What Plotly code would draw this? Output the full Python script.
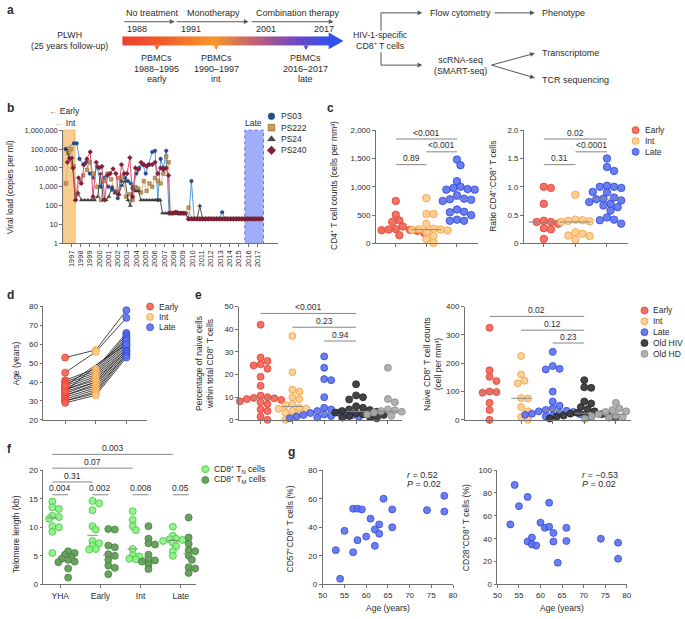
import numpy as np
import plotly.graph_objects as go

W, H = 685, 619
FONT = "Liberation Sans, Arial, sans-serif"
TXT = "#2b2b2b"
AXC = "#707070"

# ======================= DATA =======================
# ---- panel a (text content) ----
A_PERIODS = ["No treatment", "Monotherapy", "Combination therapy"]
A_PERIOD_YEARS = ["1988", "1991", "2001", "2017"]
A_SAMPLES = [["PBMCs", "1988–1995", "early"], ["PBMCs", "1990–1997", "int"], ["PBMCs", "2016–2017", "late"]]

# ---- panel b: viral load (copies per ml) ----
B_TICK_YEARS = list(range(1997, 2018))
B_VL_TICKS = [1, 10, 100, 1000, 10000, 100000, 1000000]
B_VL_LABELS = ["1", "10", "100", "1,000", "10,000", "100,000", "1,000,000"]
TAIL_YEARS = [2009.6, 2009.9, 2010.2, 2010.5, 2010.8, 2011.1, 2011.4, 2011.7, 2012.0, 2012.3,
              2012.6, 2012.9, 2013.2, 2013.5, 2013.8, 2014.1, 2014.4, 2014.7, 2015.0, 2015.3,
              2015.6, 2015.9, 2016.2, 2016.5, 2016.8, 2017.1, 2017.4]

PS03_YEARS = [1996.4, 1997.3, 1997.6, 1997.9, 1998.3, 1998.6, 1999.0, 1999.4, 1999.8, 2000.2,
              2000.6, 2001.0, 2001.4, 2001.8, 2002.0, 2002.4, 2002.8, 2003.1, 2003.4, 2003.6,
              2004.0, 2004.3, 2004.7, 2005.0, 2005.3, 2005.7, 2006.0, 2006.3, 2006.6, 2006.9,
              2007.2, 2007.5, 2007.8, 2008.1, 2008.4, 2008.7, 2009.0, 2009.3]
PS03_VL = [100000, 200000, 200000, 30000, 15000, 20000, 5000, 3000, 12000, 1000,
           3000, 1000, 700, 600, 250, 2000, 3000, 2000, 1500, 800,
           5000, 10000, 15000, 5000, 15000, 70000, 80000, 200, 30000, 10000,
           80000, 40, 40, 40, 40, 40, 40, 40]
PS03_TAIL = [20, 2000, 20, 20, 20, 20, 20, 20, 20, 20, 20, 20, 45, 20, 20, 20, 20, 20, 20, 20,
             20, 20, 20, 20, 20, 20, 20]

PS222_YEARS = [1996.45, 1996.7, 1997.0, 1997.25, 1997.6, 1998.0, 1998.3, 1998.7, 1999.0, 1999.4,
               1999.8, 2000.2, 2000.5, 2000.9, 2001.3, 2001.7, 2002.1, 2002.5, 2002.9, 2003.3,
               2003.6, 2003.9, 2004.2, 2004.5, 2004.8, 2005.1, 2005.4, 2005.7, 2006.0, 2006.3,
               2006.6, 2006.9, 2007.2, 2007.45, 2007.65, 2008.0, 2008.3, 2008.6, 2008.9, 2009.2]
PS222_VL = [1500, 60000, 100000, 12000, 400, 2000, 4000, 8000, 20000, 5000,
            1000, 200, 2000, 5000, 2500, 500, 3000, 3500, 300, 400,
            200, 1000, 800, 500, 2000, 600, 1500, 1000, 3000, 2000,
            1500, 5000, 40000, 20000, 40, 40, 45, 40, 40, 40]
PS222_TAIL = [80, 20, 20, 20, 20, 20, 20, 20, 20, 20, 20, 20, 20, 20, 20, 20, 20, 20, 20, 20,
              20, 20, 20, 20, 20, 20, 20]

PS24_YEARS = [1996.5, 1996.8, 1997.1, 1997.45, 1997.75, 1998.1, 1998.45, 1998.8, 1999.15, 1999.5,
              1999.85, 2000.15, 2000.45, 2000.75, 2001.05, 2001.4, 2001.75, 2002.1, 2002.45, 2002.8,
              2003.1, 2003.35, 2003.6, 2003.9, 2004.2, 2004.5, 2004.8, 2005.1, 2005.4, 2005.7,
              2006.0, 2006.3, 2006.55, 2006.8, 2007.1, 2007.4, 2007.7, 2008.0, 2008.3, 2008.6,
              2008.9, 2009.2]
PS24_VL = [100000, 35000, 35000, 200, 500, 200, 200, 200, 200, 200,
           300, 5000, 200, 200, 300, 1000, 500, 400, 1200, 2000,
           200, 100, 1000, 600, 600, 200, 200, 200, 200, 200,
           200, 200, 200, 40, 40, 40, 40, 40, 40, 40,
           40, 40]
PS24_TAIL = [20, 20, 20, 20, 100, 20, 20, 20, 20, 20, 20, 20, 20, 20, 20, 20, 20, 20, 20, 20,
             20, 20, 20, 20, 20, 20, 20]

PS240_YEARS = [1996.6, 1996.9, 1997.2, 1997.5, 1997.8, 1998.1, 1998.4, 1998.7, 1999.05, 1999.35,
               1999.7, 2000.0, 2000.3, 2000.6, 2000.9, 2001.2, 2001.5, 2001.8, 2002.1, 2002.4,
               2002.7, 2003.0, 2003.3, 2003.6, 2003.9, 2004.2, 2004.5, 2004.8, 2005.1, 2005.4,
               2005.7, 2006.0, 2006.3, 2006.6, 2006.9, 2007.2, 2007.45, 2007.6, 2007.9, 2008.2,
               2008.5, 2008.8, 2009.1]
PS240_VL = [20000, 30000, 10000, 200, 3000, 1500, 15000, 30000, 70000, 300,
            20000, 10000, 12000, 200, 4000, 5000, 9000, 5000, 400, 15000,
            5000, 5000, 35000, 300, 10000, 8000, 20000, 15000, 12000, 15000,
            15000, 20000, 5000, 10000, 8000, 10000, 4000, 40, 40, 45,
            40, 40, 40]
PS240_TAIL = [20, 20, 20, 20, 20, 20, 20, 20, 20, 20, 20, 20, 20, 20, 20, 20, 20, 20, 20, 20,
              20, 20, 20, 20, 20, 20, 20]

# ---- panel c ----
GROUPS3 = ["Early", "Int", "Late"]
CD4_EARLY = [750, 505, 405, 380, 300, 255, 245, 240, 235, 225, 200, 185, 145]
CD4_INT = [800, 520, 520, 345, 260, 250, 245, 240, 230, 200, 130, 80, 10]
CD4_LATE = [1480, 1380, 1100, 1000, 980, 960, 950, 950, 850, 790, 780, 770, 750, 740, 600,
            560, 550, 500, 420, 400, 400]
RATIO_EARLY = [1.0, 0.98, 0.70, 0.40, 0.38, 0.38, 0.35, 0.27, 0.25, 0.08]
RATIO_INT = [0.86, 0.42, 0.41, 0.40, 0.39, 0.38, 0.20, 0.17, 0.14, 0.13, 0.07]
RATIO_LATE = [1.5, 1.35, 1.28, 1.02, 1.0, 1.0, 0.98, 0.91, 0.9, 0.81, 0.79, 0.78, 0.76, 0.73,
              0.70, 0.67, 0.64, 0.58, 0.46, 0.42, 0.41, 0.35]

# ---- panel d: age (years), one entry per person ----
AGE_EARLY = [53, 45, 41, 40, 39, 38, 37, 36, 36, 35, 34, 33, 33, 32, 31, 30, 30, 29, 35, 38]
AGE_INT = [57, 56, 47, 46, 45, 44, 43, 42, 41, 40, 40, 39, 38, 37, 36, 35, 34, 33, None, None]
AGE_LATE = [78, 74, 66, 65, 64, 63, 62, 61, 60, 59, 58, 57, 57, 56, 55, 55, 54, 53, 62, 60]

# ---- panel e ----
GROUPS5 = ["Early", "Int", "Late", "Old HIV", "Old HD"]
NAIVE_PCT = [
    [42, 27.5, 26, 24.5, 24, 22.6, 19, 15, 10.7, 10, 9.7, 9.5, 9.2, 8.8, 8.2, 7.8, 7, 4.6, 3.9, 1.4, 0],
    [37, 21, 13.3, 12.5, 10, 9.2, 7, 6.5, 5.3, 5.0, 4.9, 3.9, 3.2, 2.4, 1.0, 0],
    [28, 23, 18, 17.5, 10, 5.3, 4.6, 3.9, 3.2, 3.0, 2.7, 2.4, 2.2, 2.0, 1.7, 1.5, 1.3, 1.0, 0.7],
    [15.7, 10.8, 10, 9, 6, 5.3, 4.6, 4.3, 3.9, 3.6, 3.2, 2.9, 2.4, 2.2, 1.7, 1.3, 1.0, 0.7],
    [23, 9.2, 7.8, 4.6, 4.2, 3.9, 3.6, 3.2, 3.0, 2.4, 2.0, 1.8],
]
NAIVE_COUNT = [
    [325, 175, 152, 137, 100, 98, 96, 60, 35, 0],
    [225, 160, 138, 129, 77, 75, 45, 30, 10, 0],
    [240, 190, 180, 178, 100, 65, 50, 40, 35, 32, 30, 28, 25, 22, 20, 18, 15, 12],
    [140, 115, 113, 65, 58, 45, 38, 30, 25, 22, 20, 18, 15, 13, 12, 10, 8, 5],
    [60, 40, 35, 30, 28, 22, 20, 18, 15, 12, 10, 8, 6, 4],
]

# ---- panel f: telomere length (kb) ----
F_GROUPS = ["YHA", "Early", "Int", "Late"]
TEL_TN = [
    [14.5, 13.5, 13.2, 12, 11.8, 11.5, 10.2, 10, 9.2, 5.5],
    [14.6, 14.2, 13, 10.2, 9.6, 7.6, 7.2, 6.8, 6.2, 6.1],
    [12.8, 11.3, 10.2, 9.5, 6.2, 5.1, 4.9, 4.5, 4.4],
    [10.1, 8.5, 8.0, 7.9, 7.8, 7.6, 7.3, 6.7, 5.8, 5.0],
]
TEL_TM = [
    [5.8, 5.5, 5.2, 4.8, 4.5, 4.3, 4.0, 3.9, 2.8, 1.2],
    [9.7, 9.6, 6.8, 6.5, 5.3, 5.0, 4.3, 3.3, 2.9, 1.8],
    [10.2, 8.0, 7.2, 7.0, 5.2, 4.3, 4.2, 4.0, 3.5, 2.7],
    [11.7, 8.2, 7.1, 6.0, 5.8, 5.0, 4.3, 3.0, 2.8, 2.0],
]

# ---- panel g ----
G_AGE = [53, 54, 55, 57, 57, 58, 58, 59, 60, 61, 62, 62, 63, 63, 64, 66, 66, 74, 78, 78]
G_CD57 = [24, 4, 37.5, 53, 22.5, 53, 31, 52.5, 33.5, 46, 38.5, 27, 42, 35.5, 60, 52.5, 40, 52, 62, 51]
G_CD28 = [52.5, 87, 68.5, 76.5, 37.5, 41, 35, 34, 54, 49.5, 71.5, 50.5, 45, 37.5, 19, 49.5, 38, 40, 36.5, 22.5]

# ======================= STYLE / HELPERS =======================
COL = {
    "Early": ("rgba(242,100,88,0.92)", "#E2412F"),
    "Int": ("rgba(252,204,140,0.92)", "#F2A03C"),
    "Late": ("rgba(92,115,240,0.92)", "#3448D8"),
    "Old HIV": ("rgba(58,58,58,0.95)", "#222222"),
    "Old HD": ("rgba(172,172,172,0.95)", "#8C8C8C"),
    "TN": ("rgba(140,240,135,0.92)", "#3CC83A"),
    "TM": ("rgba(96,158,86,0.95)", "#4A8040"),
}

fig = go.Figure()
shapes, anns = [], []


def X(p):
    return p / W


def Y(p):
    return 1 - p / H


def base_axis(**kw):
    d = dict(showline=True, linecolor=AXC, linewidth=0.8, ticks="outside", ticklen=3,
             tickwidth=0.8, tickcolor=AXC, showgrid=False, zeroline=False,
             tickfont=dict(size=8, color=TXT, family=FONT), fixedrange=True)
    d.update(kw)
    return d


L = dict(width=W, height=H, margin=dict(l=0, r=0, t=0, b=0), paper_bgcolor="white",
         plot_bgcolor="rgba(0,0,0,0)", showlegend=False,
         font=dict(family=FONT, size=8, color=TXT))


def add_axes(n, xdom, ydom, xkw, ykw):
    sx = "" if n == 1 else str(n)
    L["xaxis" + sx] = base_axis(domain=[X(xdom[0]), X(xdom[1])], anchor="y" + sx, **xkw)
    L["yaxis" + sx] = base_axis(domain=[Y(ydom[1]), Y(ydom[0])], anchor="x" + sx, **ykw)


def txt(x, y, s, size=9, xanchor="center", angle=0, color=TXT, bold=False):
    if bold:
        s = "<b>" + s + "</b>"
    anns.append(dict(xref="x10", yref="y10", x=x, y=y, text=s, showarrow=False,
                     xanchor=xanchor, yanchor="middle", textangle=angle,
                     font=dict(size=size, color=color, family=FONT)))


def seg(x0, y0, x1, y1, color="#555555", width=1):
    shapes.append(dict(type="line", xref="x10", yref="y10", x0=x0, y0=y0, x1=x1, y1=y1,
                       line=dict(color=color, width=width)))


def arrow(x0, y0, x1, y1, color="#555555", hl=5.0, hw=2.4):
    dx, dy = x1 - x0, y1 - y0
    n = (dx * dx + dy * dy) ** 0.5
    ux, uy = dx / n, dy / n
    bx, by = x1 - ux * hl, y1 - uy * hl
    seg(x0, y0, bx, by, color=color)
    px, py = -uy, ux
    shapes.append(dict(type="path", xref="x10", yref="y10",
                       path="M %.2f %.2f L %.2f %.2f L %.2f %.2f Z" % (
                           x1, y1, bx + px * hw, by + py * hw, bx - px * hw, by - py * hw),
                       fillcolor=color, line=dict(width=0)))


def swarm(vals, ppu_y, ppu_x, d=7.0, sep=0.92):
    vals = np.asarray(vals, float)
    step = d * 0.5
    order = np.argsort(-vals, kind="stable")
    placed = []
    offs = np.zeros(len(vals))
    for i in order:
        yv = vals[i] * ppu_y
        best = None
        for k in range(0, 100):
            for c in ([0.0] if k == 0 else [k * step, -k * step]):
                if all((c - px) ** 2 + (yv - py) ** 2 >= (d * sep) ** 2 for px, py in placed):
                    best = c
                    break
            if best is not None:
                break
        placed.append((best, yv))
        offs[i] = best / ppu_x
    return offs


def dots(xa, ya, x, y, key, size=7):
    fill, edge = COL[key]
    fig.add_trace(go.Scatter(x=list(x), y=list(y), xaxis=xa, yaxis=ya, mode="markers",
                             cliponaxis=False, hoverinfo="skip",
                             marker=dict(size=size, color=fill, line=dict(color=edge, width=0.8))))


def median_line(xa, ya, xc, vals, half):
    m = float(np.median(vals))
    fig.add_trace(go.Scatter(x=[xc - half, xc + half], y=[m, m], xaxis=xa, yaxis=ya, mode="lines",
                             cliponaxis=False, hoverinfo="skip",
                             line=dict(color="#8a8a8a", width=1)))


def bracket(xref, x0, x1, ypx, label, size=8.5):
    shapes.append(dict(type="line", xref=xref, yref="paper", x0=x0, x1=x1, y0=Y(ypx), y1=Y(ypx),
                       line=dict(color="#666666", width=0.8)))
    anns.append(dict(xref=xref, yref="paper", x=(x0 + x1) / 2, y=Y(ypx - 6.5), text=label,
                     showarrow=False, xanchor="center", yanchor="middle",
                     font=dict(size=size, color=TXT, family=FONT)))


def legend_dot(x, y, key, label, size=7, symbol="circle"):
    fill, edge = COL[key]
    fig.add_trace(go.Scatter(x=[x], y=[y], xaxis="x10", yaxis="y10", mode="markers",
                             cliponaxis=False, hoverinfo="skip",
                             marker=dict(size=size, color=fill, symbol=symbol,
                                         line=dict(color=edge, width=0.8))))
    txt(x + 7, y, label, size=8.5, xanchor="left")


# overlay pixel axes (hidden, used to place non-data drawing elements)
L["xaxis10"] = dict(domain=[0, 1], range=[0, W], visible=False, showticklabels=False,
                    anchor="y10", fixedrange=True)
L["yaxis10"] = dict(domain=[0, 1], range=[H, 0], visible=False, showticklabels=False,
                    anchor="x10", fixedrange=True)

# ======================= PANEL a =======================
txt(1, 6, "a", size=12, xanchor="left", bold=True)
for (xl, a0, a1), lab in zip([(122, 122, 173), (183, 175, 248), (253, 251, 334)], A_PERIODS):
    txt(xl, 9, lab, xanchor="left")
    arrow(a0, 18, a1, 18)
for xl, lab in zip([123, 177, 253, 312], A_PERIOD_YEARS):
    txt(xl, 25.5, lab, xanchor="left")
txt(66, 37.5, "PLWH<br>(25 years follow-up)", size=8.8)

stops = [(120, (238, 62, 50)), (165, (242, 96, 46)), (212, (247, 150, 40)),
         (252, (196, 98, 112)), (292, (118, 70, 192)), (330, (50, 80, 235))]


def grad(xp):
    for (x0, c0), (x1, c1) in zip(stops[:-1], stops[1:]):
        if x0 <= xp <= x1:
            t = (xp - x0) / (x1 - x0)
            return "rgb(%d,%d,%d)" % tuple(int(round(a + (b - a) * t)) for a, b in zip(c0, c1))
    return "rgb(50,80,235)"


NSEG = 84
xs = np.linspace(120, 330, NSEG + 1)
for i in range(NSEG):
    c = grad((xs[i] + xs[i + 1]) / 2)
    shapes.append(dict(type="rect", xref="x10", yref="y10", x0=xs[i], x1=xs[i + 1] + 0.6,
                       y0=33, y1=42, fillcolor=c, line=dict(width=0)))
shapes.append(dict(type="path", xref="x10", yref="y10", path="M 329 29 L 344 37.5 L 329 46 Z",
                   fillcolor="rgb(50,80,235)", line=dict(width=0)))
for xc, lines in zip([155, 215, 306], A_SAMPLES):
    shapes.append(dict(type="path", xref="x10", yref="y10",
                       path="M %f 42 L %f 42 L %f 47 Z" % (xc - 2.5, xc + 2.5, xc),
                       fillcolor=grad(xc), line=dict(width=0)))
    for k, s in enumerate(lines):
        txt(xc, 55 + 10.5 * k, s)

txt(382, 37.5, "HIV-1-specific<br>CD8⁺ T cells", size=8.8)
seg(382, 9, 382, 27)
seg(382, 49, 382, 62)
arrow(382, 9, 424, 9)
arrow(382, 62, 424, 62)
txt(430, 9, "Flow cytometry", xanchor="left")
arrow(497, 9, 538, 9)
txt(543, 9, "Phenotype", xanchor="left")
txt(463, 62, "scRNA-seq<br>(SMART-seq)", size=8.8)
arrow(494, 62, 538, 50)
arrow(494, 62, 538, 75)
txt(543, 50, "Transcriptome", xanchor="left")
txt(543, 77, "TCR sequencing", xanchor="left")

# ======================= PANEL b =======================
txt(1, 106, "b", size=12, xanchor="left", bold=True)
B_X0, B_X1 = 1997 - 8 / 9.45, 1997 + 210 / 9.45
add_axes(1, (60, 278), (128, 243),
         dict(range=[B_X0, B_X1], tickvals=B_TICK_YEARS, ticktext=[str(v) for v in B_TICK_YEARS],
              tickangle=-90, tickfont=dict(size=7.5, color=TXT, family=FONT)),
         dict(type="log", range=[0, 6], tickvals=B_VL_TICKS, ticktext=B_VL_LABELS,
              tickfont=dict(size=7.5, color=TXT, family=FONT)))
shapes.append(dict(type="rect", xref="x", yref="paper", x0=B_X0, x1=1997 + (72 - 68) / 9.45,
                   y0=Y(243), y1=Y(128), fillcolor="rgba(248,198,132,0.9)",
                   line=dict(color="#F2A548", width=0.8), layer="below"))
shapes.append(dict(type="rect", xref="x", yref="paper", x0=1997 + (244 - 68) / 9.45,
                   x1=1997 + (263 - 68) / 9.45, y0=Y(243), y1=Y(128),
                   fillcolor="rgba(150,164,246,0.9)",
                   line=dict(color="#3B55E6", width=0.8, dash="dot"), layer="below"))
b_series = [
    (PS03_YEARS, PS03_VL, PS03_TAIL, "#3F8FD4", "circle", "#1F4F92", "#173A70"),
    (PS222_YEARS, PS222_VL, PS222_TAIL, "#D8B27A", "square", "#C9965A", "#6E5028"),
    (PS24_YEARS, PS24_VL, PS24_TAIL, "#3A3A3A", "triangle-up", "#4A4A4A", "#222222"),
    (PS240_YEARS, PS240_VL, PS240_TAIL, "#D9385E", "diamond", "#8C1C3C", "#5A0F25"),
]
for yrs, vl, tail, lc, sym, mf, me in b_series:
    fig.add_trace(go.Scatter(x=yrs + TAIL_YEARS, y=vl + tail, xaxis="x", yaxis="y",
                             mode="lines+markers", hoverinfo="skip", cliponaxis=False,
                             line=dict(color=lc, width=0.9),
                             marker=dict(symbol=sym, size=3.6, color=mf, line=dict(color=me, width=0.4))))
txt(6, 186, "Viral load (copies per ml)", size=8.5, angle=-90)
txt(44, 109, "<span style='color:#E8452C'>←</span> Early", size=8.5, xanchor="left")
txt(50, 121, "<span style='color:#F5A030'>←</span> Int", size=8.5, xanchor="left")
txt(253, 121, "Late", size=8.5)
for (yy, lab, sym, mf, me) in [(114, "PS03", "circle", "#1F4F92", "#173A70"),
                              (125.5, "PS222", "square", "#D49A50", "#6E5028"),
                              (137, "PS24", "triangle-up", "#4A4A4A", "#222222"),
                              (148.5, "PS240", "diamond", "#8C1C3C", "#5A0F25")]:
    fig.add_trace(go.Scatter(x=[271], y=[yy], xaxis="x10", yaxis="y10", mode="markers",
                             hoverinfo="skip", cliponaxis=False,
                             marker=dict(symbol=sym, size=6.5, color=mf, line=dict(color=me, width=0.6))))
    txt(279, yy, lab, size=8.5, xanchor="left")

# ======================= PANEL c =======================
txt(325, 106, "c", size=12, xanchor="left", bold=True)
add_axes(2, (377, 480), (128, 243),
         dict(range=[-20 / 31, 83 / 31], tickvals=[0, 1, 2], showticklabels=False),
         dict(range=[0, 2000], tickvals=[0, 500, 1000, 1500, 2000],
              ticktext=["0", "500", "1,000", "1,500", "2,000"]))
for gi, (vals, key) in enumerate(zip([CD4_EARLY, CD4_INT, CD4_LATE], GROUPS3)):
    offs = swarm(vals, 115 / 2000, 31, d=7.2)
    dots("x2", "y2", gi + offs, vals, key, size=7.5)
    median_line("x2", "y2", gi, vals, 0.48)
bracket("x2", 0, 2, 137, "&lt;0.001")
bracket("x2", 1, 2, 150, "&lt;0.001")
bracket("x2", 0, 1, 163, "0.89")
txt(335, 184, "CD4⁺ T cell counts (cells per mm³)", size=8.5, angle=-90)

add_axes(3, (527, 632), (128, 243),
         dict(range=[-20 / 32, 85 / 32], tickvals=[0, 1, 2], showticklabels=False),
         dict(range=[0, 2], tickvals=[0, 0.5, 1, 1.5, 2], ticktext=["0", "0.5", "1.0", "1.5", "2.0"]))
for gi, (vals, key) in enumerate(zip([RATIO_EARLY, RATIO_INT, RATIO_LATE], GROUPS3)):
    offs = swarm(vals, 115 / 2, 32, d=7.2)
    dots("x3", "y3", gi + offs, vals, key, size=7.5)
    median_line("x3", "y3", gi, vals, 0.48)
bracket("x3", 0, 2, 137, "0.02")
bracket("x3", 1, 2, 150, "&lt;0.0001")
bracket("x3", 0, 1, 163, "0.31")
txt(496, 185, "Ratio CD4⁺:CD8⁺ T cells", size=8.5, angle=-90)
for yy, key in zip([128, 139, 150], GROUPS3):
    legend_dot(640, yy, key, key)

# ======================= PANEL d =======================
txt(1, 295, "d", size=12, xanchor="left", bold=True)
add_axes(4, (40, 145), (307, 422),
         dict(range=[-22 / 31, 83 / 31], tickvals=[0, 1, 2], showticklabels=False),
         dict(range=[20, 80], tickvals=[20, 30, 40, 50, 60, 70, 80]))
lx, ly = [], []
for e, i, l in zip(AGE_EARLY, AGE_INT, AGE_LATE):
    if i is None:
        lx += [0, 2, None]
        ly += [e, l, None]
    else:
        lx += [0, 1, 2, None]
        ly += [e, i, l, None]
fig.add_trace(go.Scatter(x=lx, y=ly, xaxis="x4", yaxis="y4", mode="lines", hoverinfo="skip",
                         cliponaxis=False, line=dict(color="#1a1a1a", width=0.8)))
dots("x4", "y4", [0] * len(AGE_EARLY), AGE_EARLY, "Early")
int_vals = [v for v in AGE_INT if v is not None]
dots("x4", "y4", [1] * len(int_vals), int_vals, "Int")
dots("x4", "y4", [2] * len(AGE_LATE), AGE_LATE, "Late")
txt(12, 365, "Age (years)", size=8.5, angle=-90)
for yy, key in zip([307, 317.5, 328], GROUPS3):
    legend_dot(148, yy, key, key)

# ======================= PANEL e =======================
txt(192, 295, "e", size=12, xanchor="left", bold=True)
add_axes(5, (238, 403), (307, 422),
         dict(range=[-22 / 32.25, 143 / 32.25], tickvals=[0, 1, 2, 3, 4], showticklabels=False),
         dict(range=[0, 50], tickvals=[0, 10, 20, 30, 40, 50]))
for gi, (vals, key) in enumerate(zip(NAIVE_PCT, GROUPS5)):
    offs = swarm(vals, 115 / 50, 32.25, d=7.0)
    dots("x5", "y5", gi + offs, vals, key)
    median_line("x5", "y5", gi, vals, 0.31)
bracket("x5", 0, 3, 314, "&lt;0.001")
bracket("x5", 1, 3, 328, "0.23")
bracket("x5", 2, 3, 342, "0.94")
txt(203, 365, "Percentage of naive cells<br>within total CD8⁺ T cells", size=8.5, angle=-90)

add_axes(6, (467, 635), (307, 422),
         dict(range=[-25 / 32, 143 / 32], tickvals=[0, 1, 2, 3, 4], showticklabels=False),
         dict(range=[0, 400], tickvals=[0, 100, 200, 300, 400]))
for gi, (vals, key) in enumerate(zip(NAIVE_COUNT, GROUPS5)):
    offs = swarm(vals, 115 / 400, 32, d=7.0)
    dots("x6", "y6", gi + offs, vals, key)
    median_line("x6", "y6", gi, vals, 0.31)
bracket("x6", 0, 3, 317, "0.02")
bracket("x6", 1, 3, 331, "0.12")
bracket("x6", 2, 3, 344, "0.23")
txt(434, 365, "Naive CD8⁺ T cell counts<br>(cell per mm³)", size=8.5, angle=-90)
for yy, key in zip([311, 322, 333, 344, 355], GROUPS5):
    legend_dot(649, yy, key, key)

# ======================= PANEL f =======================
txt(1, 452, "f", size=12, xanchor="left", bold=True)
F_PPU = 40.7
F_OFF = 8 / F_PPU
add_axes(7, (40, 195), (473, 589),
         dict(range=[-17 / F_PPU, 138 / F_PPU], tickvals=[0, 1, 2, 3], ticktext=F_GROUPS,
              tickfont=dict(size=8.5, color=TXT, family=FONT)),
         dict(range=[0, 20], tickvals=[0, 5, 10, 15, 20]))
for gi in range(4):
    for vals, key, sgn in [(TEL_TN[gi], "TN", -1), (TEL_TM[gi], "TM", 1)]:
        offs = swarm(vals, 116 / 20, F_PPU, d=6.6, sep=0.62)
        dots("x7", "y7", gi + sgn * F_OFF + offs, vals, key)
        median_line("x7", "y7", gi + sgn * F_OFF, vals, 0.13)
bracket("x7", -F_OFF, 3 - F_OFF, 457, "0.003")
bracket("x7", -F_OFF, 2 - F_OFF, 471, "0.07")
bracket("x7", -F_OFF, 1 - F_OFF, 485, "0.31")
for gi, lab in enumerate(["0.004", "0.002", "0.008", "0.05"]):
    bracket("x7", gi - F_OFF, gi + F_OFF, 498, lab)
txt(12, 538, "Telomere length (kb)", size=8.5, angle=-90)
legend_dot(204, 472, "TN", "CD8⁺ T<sub>N</sub> cells")
legend_dot(204, 483, "TM", "CD8⁺ T<sub>M</sub> cells")

# ======================= PANEL g =======================
txt(286, 455, "g", size=12, xanchor="left", bold=True)
add_axes(8, (323, 455), (473, 589),
         dict(range=[50, 80], tickvals=[50, 55, 60, 65, 70, 75, 80]),
         dict(range=[0, 80], tickvals=[0, 20, 40, 60, 80]))
dots("x8", "y8", G_AGE, G_CD57, "Late")
txt(389, 613, "Age (years)", size=8.5)
txt(290, 533, "CD57⁺CD8⁺ T cells (%)", size=8.5, angle=-90)
txt(406, 478, "<i>r</i> = 0.52", size=9, xanchor="left")
txt(406, 487, "<i>P</i> = 0.02", size=9, xanchor="left")

add_axes(9, (500, 631), (473, 589),
         dict(range=[50, 80], tickvals=[50, 55, 60, 65, 70, 75, 80]),
         dict(range=[0, 100], tickvals=[0, 20, 40, 60, 80, 100]))
dots("x9", "y9", G_AGE, G_CD28, "Late")
txt(565, 613, "Age (years)", size=8.5)
txt(468, 531, "CD28⁺CD8⁺ T cells (%)", size=8.5, angle=-90)
txt(584, 478, "<i>r</i> = −0.53", size=9, xanchor="left")
txt(584, 487, "<i>P</i> = 0.02", size=9, xanchor="left")

L["shapes"] = shapes
L["annotations"] = anns
fig.update_layout(**L)
fig.write_html("out.html")
